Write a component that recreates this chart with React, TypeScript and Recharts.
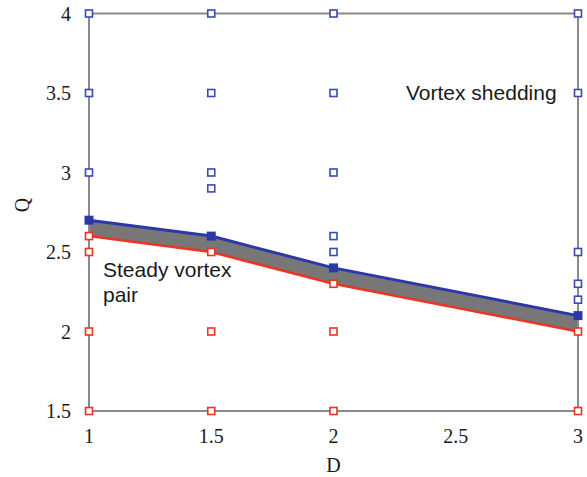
import {
  Area,
  ComposedChart,
  Customized,
  Line,
  ReferenceLine,
  Scatter,
  XAxis,
  YAxis,
} from "recharts";

// boundary between the two regimes (D, upper = shedding onset, lower = steady limit)
const BOUNDARY_D = [1, 1.5, 2, 3];
const UPPER_Q = [2.7, 2.6, 2.4, 2.1];
const LOWER_Q = [2.6, 2.5, 2.3, 2.0];

// simulated cases showing vortex shedding (blue) and steady vortex pair (red)
const SHEDDING_D = [1, 1, 1, 1.5, 1.5, 1.5, 1.5, 2, 2, 2, 2, 2, 3, 3, 3, 3, 3];
const SHEDDING_Q = [4, 3.5, 3, 4, 3.5, 3, 2.9, 4, 3.5, 3, 2.6, 2.5, 4, 3.5, 2.5, 2.3, 2.2];
const STEADY_D = [1, 1, 1, 1, 1.5, 1.5, 1.5, 2, 2, 2, 3, 3];
const STEADY_Q = [2.6, 2.5, 2.0, 1.5, 2.5, 2.0, 1.5, 2.3, 2.0, 1.5, 2.0, 1.5];

const X_TICKS = [1, 1.5, 2, 2.5, 3];
const Y_TICKS = [1.5, 2, 2.5, 3, 3.5, 4];

const AXIS_GREY = "#8a8a8a";
const BLUE = "#2c38a8";
const RED = "#ee3322";

const boundary = BOUNDARY_D.map((d, i) => ({
  D: d,
  upper: UPPER_Q[i],
  lower: LOWER_Q[i],
}));
const shedding = SHEDDING_D.map((d, i) => ({ D: d, Q: SHEDDING_Q[i] }));
const steady = STEADY_D.map((d, i) => ({ D: d, Q: STEADY_Q[i] }));

const tickStyle = {
  fontSize: 20,
  fontFamily: "Liberation Serif",
  fill: "#1a1a1a",
};

const openSquare = (color: string) => (props: any) => (
  <rect
    x={props.cx - 3.5}
    y={props.cy - 3.5}
    width={7}
    height={7}
    fill="#fff"
    stroke={color}
    strokeWidth={1.6}
  />
);

const filledSquare = (props: any) => (
  <rect
    key={props.index}
    x={props.cx - 4.5}
    y={props.cy - 4.5}
    width={9}
    height={9}
    fill={BLUE}
  />
);

const Notes = () => (
  <g fontFamily="Liberation Sans" fontSize={21} fill="#1a1a1a">
    <text x={406} y={100}>Vortex shedding</text>
    <text x={103} y={277}>Steady vortex</text>
    <text x={103} y={302}>pair</text>
  </g>
);

const App = () => {
  return (
    <div style={{ position: "absolute", left: 0, top: 0 }}>
      <ComposedChart
        width={587}
        height={477}
        data={boundary}
        margin={{ top: 13.5, right: 9, bottom: 0, left: 0 }}
      >
        <XAxis
          dataKey="D"
          type="number"
          domain={[1, 3]}
          ticks={X_TICKS}
          tick={tickStyle}
          tickLine={false}
          tickMargin={12}
          axisLine={{ stroke: AXIS_GREY, strokeWidth: 2 }}
          height={66}
          label={{ value: "D", position: "insideBottom", offset: 5, style: tickStyle }}
        />
        <YAxis
          type="number"
          domain={[1.5, 4]}
          ticks={Y_TICKS}
          tick={tickStyle}
          tickLine={false}
          tickMargin={12}
          axisLine={{ stroke: AXIS_GREY, strokeWidth: 2 }}
          width={89}
          label={{ value: "Q", angle: -90, position: "insideLeft", offset: 22, style: tickStyle }}
        />
        <ReferenceLine y={4} stroke={AXIS_GREY} strokeWidth={2} />
        <ReferenceLine x={3} stroke={AXIS_GREY} strokeWidth={2} />
        <Area
          dataKey={(d: any) => [d.lower, d.upper]}
          type="linear"
          fill="#777"
          fillOpacity={1}
          stroke="none"
          isAnimationActive={false}
        />
        <Line
          dataKey="lower"
          type="linear"
          stroke={RED}
          strokeWidth={2.5}
          dot={false}
          isAnimationActive={false}
        />
        <Line
          dataKey="upper"
          type="linear"
          stroke={BLUE}
          strokeWidth={3}
          dot={filledSquare}
          isAnimationActive={false}
        />
        <Scatter
          data={shedding}
          dataKey="Q"
          shape={openSquare("#3a48b8")}
          isAnimationActive={false}
        />
        <Scatter
          data={steady}
          dataKey="Q"
          shape={openSquare(RED)}
          isAnimationActive={false}
        />
        <Customized component={Notes} />
      </ComposedChart>
    </div>
  );
};

export default App;
